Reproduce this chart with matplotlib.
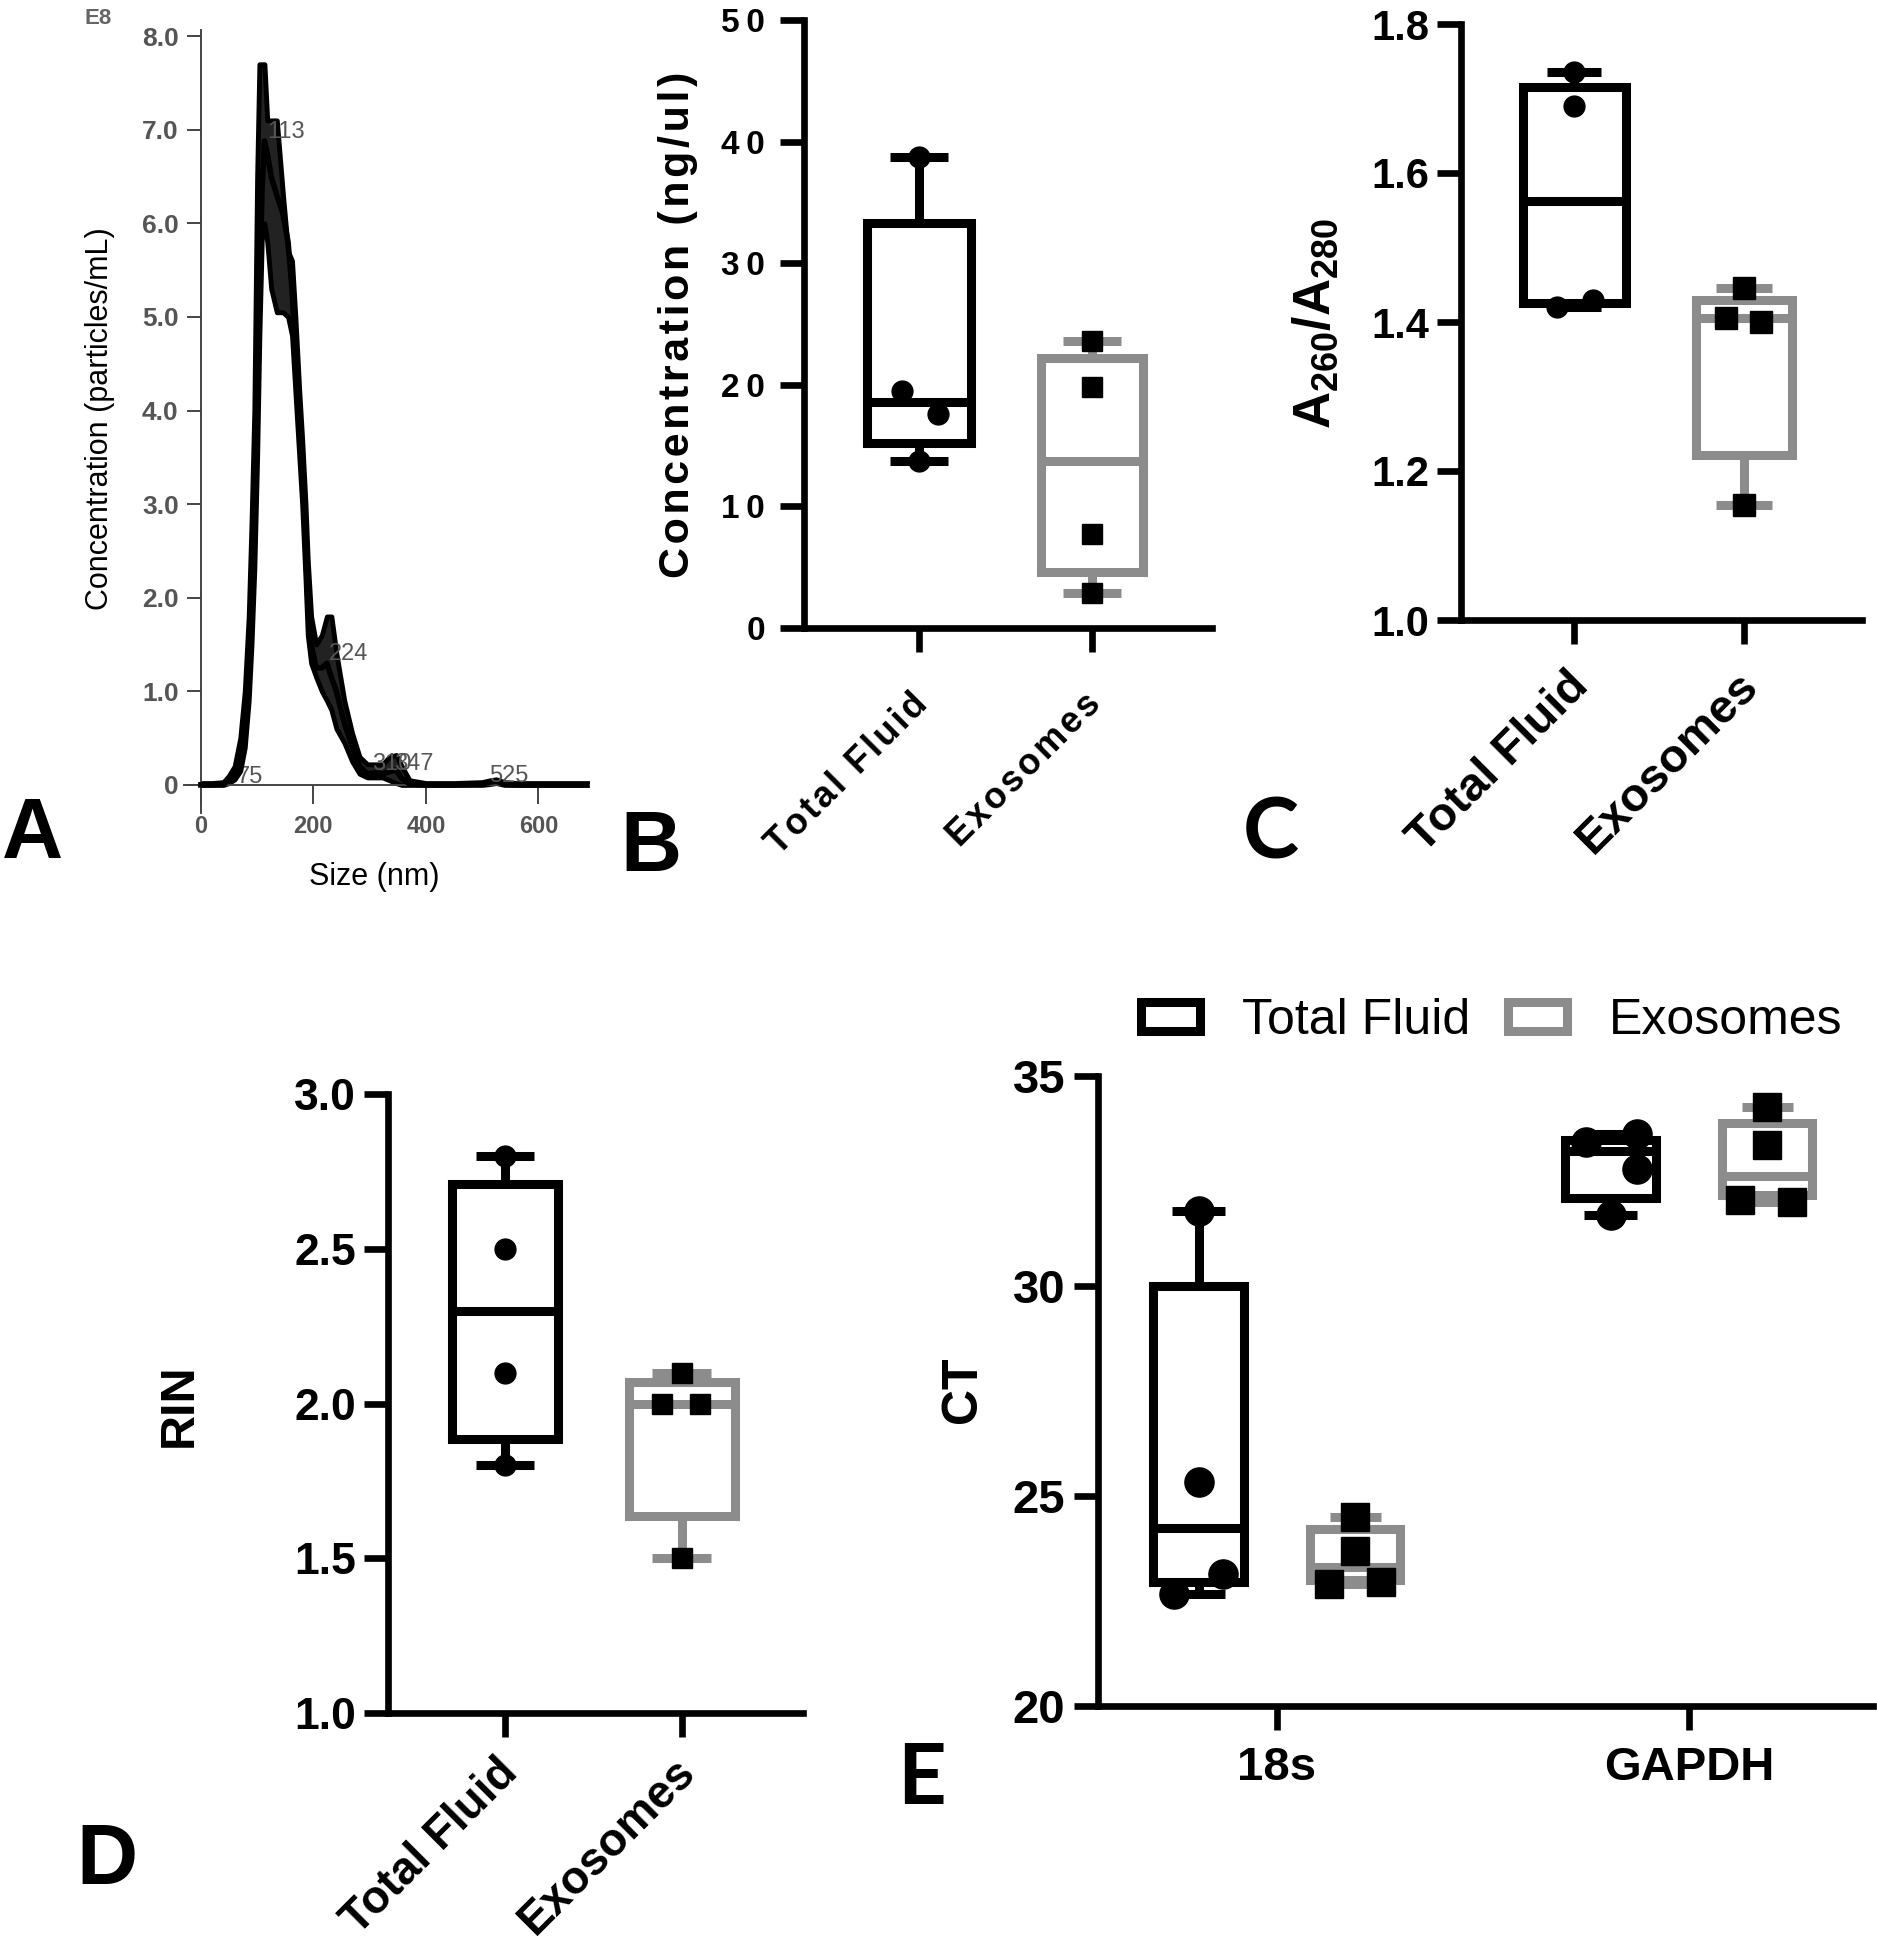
import numpy as np
import matplotlib
matplotlib.use('Agg')
import matplotlib.pyplot as plt
from matplotlib.patches import Patch
from matplotlib.transforms import ScaledTranslation

plt.rcParams['font.family'] = ['Liberation Sans', 'DejaVu Sans']
plt.rcParams['mathtext.fontset'] = 'custom'
plt.rcParams['mathtext.rm'] = 'Liberation Sans'
plt.rcParams['mathtext.bf'] = 'Liberation Sans:bold'
plt.rcParams['mathtext.default'] = 'bf'

W, H, DPI = 1877, 1950, 100
BLACK, GREY = '#000000', '#8c8c8c'

# ---------------- data ----------------
# A: NTA size distribution (E8 particles/mL)
nta_size = [0, 20, 40, 50, 60, 70, 78, 85, 90, 95, 100, 104, 109, 113, 118,
            125, 135, 146, 155, 162, 168, 175, 180, 186, 190, 196, 205, 215, 224, 232,
            241, 255, 269, 282, 296, 310, 323, 335, 347, 357, 371, 400, 450, 500, 514,
            525, 540, 560, 600, 690]
nta_conc = [0, 0, 0.01, 0.05, 0.12, 0.3, 0.7, 1.3, 2.0, 3.0, 4.3, 5.3, 6.4, 6.88, 6.75,
            6.5, 6.3, 6.1, 5.8, 5.3, 4.6, 3.9, 3.4, 2.6, 2.0, 1.5, 1.25, 1.25, 1.3, 1.15,
            1.0, 0.66, 0.41, 0.2, 0.12, 0.13, 0.12, 0.14, 0.16, 0.07, 0.01, 0, 0, 0.01, 0.03,
            0.04, 0.01, 0, 0, 0]
nta_upper = [0.02, 0.02, 0.03, 0.1, 0.2, 0.5, 1.0, 1.8, 2.8, 4.0, 6.5, 7.7, 7.7, 7.7, 7.1,
             7.1, 7.1, 6.3, 5.7, 5.6, 5.0, 4.2, 3.7, 3.0, 2.4, 1.8, 1.5, 1.6, 1.8, 1.8,
             1.4, 0.9, 0.55, 0.3, 0.22, 0.22, 0.22, 0.3, 0.32, 0.2, 0.05, 0.02, 0.02, 0.03, 0.05,
             0.06, 0.03, 0.02, 0.02, 0.02]
nta_lower = [0, 0, 0, 0.02, 0.06, 0.15, 0.4, 0.9, 1.5, 2.3, 3.5, 4.8, 6.0, 6.0, 5.8,
             5.3, 5.05, 5.05, 5.0, 4.8, 4.2, 3.5, 3.0, 2.2, 1.6, 1.3, 1.15, 1.0, 0.9, 0.8,
             0.6, 0.45, 0.25, 0.12, 0.08, 0.08, 0.08, 0.05, 0.02, 0, 0, 0, 0, 0, 0.01,
             0.02, 0, 0, 0, 0]
peak_labels = ['75', '113', '224', '310', '347', '525']

groups = ['Total Fluid', 'Exosomes']

# B: concentration (ng/ul)
conc_tf = [38.7, 19.5, 17.6, 13.7]
conc_exo = [23.6, 19.8, 7.7, 2.9]
conc_q1, conc_med, conc_q3 = [15.2, 4.6], [18.6, 13.7], [33.3, 22.2]

# C: A260/A280
ratio_tf = [1.735, 1.69, 1.42, 1.43]
ratio_exo = [1.445, 1.405, 1.40, 1.155]
ratio_q1, ratio_med, ratio_q3 = [1.426, 1.222], [1.563, 1.406], [1.716, 1.429]

# D: RIN
rin_tf = [2.8, 2.5, 2.1, 1.8]
rin_exo = [2.1, 2.0, 2.0, 1.5]
rin_q1, rin_med, rin_q3 = [1.885, 1.635], [2.30, 2.00], [2.71, 2.07]

# E: CT values
genes = ['18s', 'GAPDH']
ct_tf = [[31.77, 25.32, 23.15, 22.66], [33.43, 33.62, 32.78, 31.69]]
ct_exo = [[24.5, 23.68, 22.9, 22.95], [34.25, 33.36, 32.04, 32.0]]
ct_tf_q1, ct_tf_med, ct_tf_q3 = [22.95, 32.08], [24.23, 33.2], [30.0, 33.47]
ct_exo_q1, ct_exo_med, ct_exo_q3 = [23.0, 32.15], [23.3, 32.62], [24.2, 33.88]


def rect(l, t, r, b):
    return [l / W, 1 - b / H, (r - l) / W, (b - t) / H]


def fxy(x, y):
    return x / W, 1 - y / H


def spaced(s):
    return '\u200a'.join(s)


def boxes(ax, pos, q1, med, q3, pts, offs, color, marker, width, capw, ms):
    stats = [dict(q1=a, med=m, q3=b, whislo=min(p), whishi=max(p), fliers=[])
             for a, m, b, p in zip(q1, med, q3, pts)]
    ax.bxp(stats, positions=pos, widths=width, capwidths=capw, showfliers=False,
           manage_ticks=False,
           boxprops=dict(color=color, lw=6.5, solid_joinstyle='miter', solid_capstyle='projecting'),
           whiskerprops=dict(color=color, lw=6.5, solid_capstyle='butt'),
           capprops=dict(color=color, lw=6.5, solid_capstyle='butt'),
           medianprops=dict(color=color, lw=6.5, solid_capstyle='butt'))
    for x, p, o in zip(pos, pts, offs):
        ax.plot(x + np.array(o), p, ls='none', marker=marker, ms=ms, color='black',
                mec='black', clip_on=False, zorder=5)


def style(ax, tick_fs, pad):
    for s in ['top', 'right']:
        ax.spines[s].set_visible(False)
    for s in ['left', 'bottom']:
        ax.spines[s].set_linewidth(4.8)
        ax.spines[s].set_capstyle('projecting')
    ax.tick_params(length=17, width=4.8, labelsize=tick_fs, pad=pad)
    for lab in ax.get_yticklabels() + ax.get_xticklabels():
        lab.set_fontweight('bold')


def nudge_xlabels(ax, dx, dy, fs):
    # shift the rotated category labels by (dx, dy) pixels
    off = ScaledTranslation(dx / DPI, -dy / DPI, fig.dpi_scale_trans)
    for lab in ax.get_xticklabels():
        lab.set_fontsize(fs)
        lab.set_transform(lab.get_transform() + off)


fig = plt.figure(figsize=(W / DPI, H / DPI), dpi=DPI)

# ---------------- A ----------------
axA = fig.add_axes(rect(184, 29.6, 589, 813))
axA.fill_between(nta_size, nta_lower, nta_upper, facecolor='#222222', edgecolor='black',
                 lw=3.5, zorder=2)
axA.plot(nta_size, nta_conc, color='black', lw=4, zorder=3)
axA.set_xlim(-30, 690)
axA.set_ylim(-0.3, 8.07)
for s in ['top', 'right']:
    axA.spines[s].set_visible(False)
axA.spines['left'].set_position(('data', 0))
axA.spines['bottom'].set_position(('data', 0))
for s in ['left', 'bottom']:
    axA.spines[s].set_color('#444444')
    axA.spines[s].set_linewidth(1.4)
axA.set_xticks([0, 200, 400, 600])
axA.set_yticks(np.arange(0, 9), ['0'] + ['%.1f' % v for v in range(1, 9)])
axA.tick_params(axis='x', length=14, width=1.4, color='#444444', labelcolor='#555555',
                labelsize=17, pad=8)
axA.tick_params(axis='y', length=10, width=1.4, color='#444444', labelcolor='#555555',
                labelsize=19, pad=6)
for lab in axA.get_xticklabels() + axA.get_yticklabels():
    lab.set_fontweight('bold')
label_x = [64, 118, 227, 305, 343, 512]
label_y = [0.02, 6.91, 1.34, 0.16, 0.16, 0.03]
label_z = [1, 4, 4, 4, 4, 4]
for t, x, y, z in zip(peak_labels, label_x, label_y, label_z):
    axA.text(x, y, t, fontsize=17, color='#555555', va='baseline', ha='left', zorder=z)
axA.set_ylabel('Concentration (particles/mL)', fontsize=22, va='center')
axA.yaxis.set_label_coords(*fxy(100, 419), transform=fig.transFigure)
axA.set_xlabel('Size (nm)', fontsize=22, va='center')
axA.xaxis.set_label_coords(*fxy(374, 877), transform=fig.transFigure)
fig.text(*fxy(98, 18), 'E8', fontsize=16, color='#666666', fontweight='bold',
         ha='center', va='center')

# ---------------- B ----------------
axB = fig.add_axes(rect(804, 20, 1212, 628))
boxes(axB, [0], conc_q1[:1], conc_med[:1], conc_q3[:1], [conc_tf],
      [[0, -0.1, 0.11, 0]], BLACK, 'o', 0.6, 0.335, 15)
boxes(axB, [1], conc_q1[1:], conc_med[1:], conc_q3[1:], [conc_exo],
      [[0, 0, 0, 0]], GREY, 's', 0.585, 0.335, 15)
axB.set_xlim(-0.665, 1.694)
axB.set_ylim(0, 50)
axB.set_yticks(range(0, 51, 10), ['\u2009'.join(str(v)) for v in range(0, 51, 10)])
axB.set_xticks([0, 1], [spaced(g) for g in groups], rotation=45, ha='right', va='top',
               rotation_mode='anchor')
style(axB, 24, 11)
nudge_xlabels(axB, -9, 20, 26)
axB.set_ylabel(spaced('Concentration (ng/ul)'), fontsize=31, fontweight='bold', va='center')
axB.yaxis.set_label_coords(*fxy(678, 325), transform=fig.transFigure)

# ---------------- C ----------------
axC = fig.add_axes(rect(1461, 24, 1862, 620))
boxes(axC, [0], ratio_q1[:1], ratio_med[:1], ratio_q3[:1], [ratio_tf],
      [[0, 0, -0.1, 0.11]], BLACK, 'o', 0.606, 0.32, 15)
boxes(axC, [1], ratio_q1[1:], ratio_med[1:], ratio_q3[1:], [ratio_exo],
      [[0, -0.105, 0.1, 0]], GREY, 's', 0.57, 0.33, 16)
axC.set_xlim(-0.665, 1.694)
axC.set_ylim(1.0, 1.8)
axC.set_yticks([1.0, 1.2, 1.4, 1.6, 1.8], ['1.0', '1.2', '1.4', '1.6', '1.8'])
axC.set_xticks([0, 1], groups, rotation=45, ha='right', va='top', rotation_mode='anchor')
style(axC, 30, 6)
nudge_xlabels(axC, -8, 12, 34)
axC.set_ylabel('A$_{260}$/A$_{280}$', fontsize=37, fontweight='bold', va='center')
axC.yaxis.set_label_coords(*fxy(1316, 323), transform=fig.transFigure)

# ---------------- D ----------------
axD = fig.add_axes(rect(388, 1094, 803, 1713))
boxes(axD, [0], rin_q1[:1], rin_med[:1], rin_q3[:1], [rin_tf],
      [[0, 0, 0, 0]], BLACK, 'o', 0.6, 0.333, 15)
boxes(axD, [1], rin_q1[1:], rin_med[1:], rin_q3[1:], [rin_exo],
      [[0, -0.11, 0.1, 0]], GREY, 's', 0.6, 0.333, 15)
axD.set_xlim(-0.661, 1.684)
axD.set_ylim(1.0, 3.0)
axD.set_yticks([1.0, 1.5, 2.0, 2.5, 3.0], ['1.0', '1.5', '2.0', '2.5', '3.0'])
axD.set_xticks([0, 1], groups, rotation=45, ha='right', va='top', rotation_mode='anchor')
style(axD, 32, 6)
nudge_xlabels(axD, -9, 5, 33)
axD.set_ylabel('RIN', fontsize=35, fontweight='bold', va='center')
axD.yaxis.set_label_coords(*fxy(179, 1405), transform=fig.transFigure)

# ---------------- E ----------------
axE = fig.add_axes(rect(1098, 1075.6, 1873, 1706))
gpos = np.arange(len(genes))
boxes(axE, gpos - 0.19, ct_tf_q1, ct_tf_med, ct_tf_q3, ct_tf,
      [[0, 0, 0.06, -0.06], [-0.06, 0.065, 0.065, 0]], BLACK, 'o', 0.22, 0.127, 21)
boxes(axE, gpos + 0.19, ct_exo_q1, ct_exo_med, ct_exo_q3, ct_exo,
      [[0, 0, -0.063, 0.063], [0, 0, -0.065, 0.06]], GREY, 's', 0.22, 0.124, 20)
axE.set_xlim(-0.434, 1.447)
axE.set_ylim(20, 35)
axE.set_yticks([20, 25, 30, 35])
axE.set_xticks(gpos, genes)
style(axE, 34, 6.5)
axE.tick_params(axis='x', pad=12)
axE.set_ylabel('CT', fontsize=36, fontweight='bold', va='center')
axE.yaxis.set_label_coords(*fxy(963, 1390), transform=fig.transFigure)

handles = [Patch(facecolor='white', edgecolor=BLACK, lw=6.5, label=groups[0]),
           Patch(facecolor='white', edgecolor=GREY, lw=6.5, label=groups[1])]
fig.legend(handles=handles, loc='center left', bbox_to_anchor=fxy(1141, 1021), ncol=2,
           frameon=False, fontsize=36, handlelength=1.18, handleheight=0.5,
           handletextpad=0.84, columnspacing=0.76, borderpad=0, borderaxespad=0)

# ---------------- panel letters ----------------
for t, x, y, fam in [('A', 33, 836, None), ('B', 651, 849, None), ('C', 1271, 834, 'Lato'),
                     ('D', 107, 1862, None), ('E', 922, 1780, 'Lato')]:
    kw = {'family': [fam, 'DejaVu Sans']} if fam else {}
    fig.text(*fxy(x, y), t, fontsize=61, fontweight='bold', ha='center', va='center', **kw)

fig.savefig('out.png', dpi=DPI)
